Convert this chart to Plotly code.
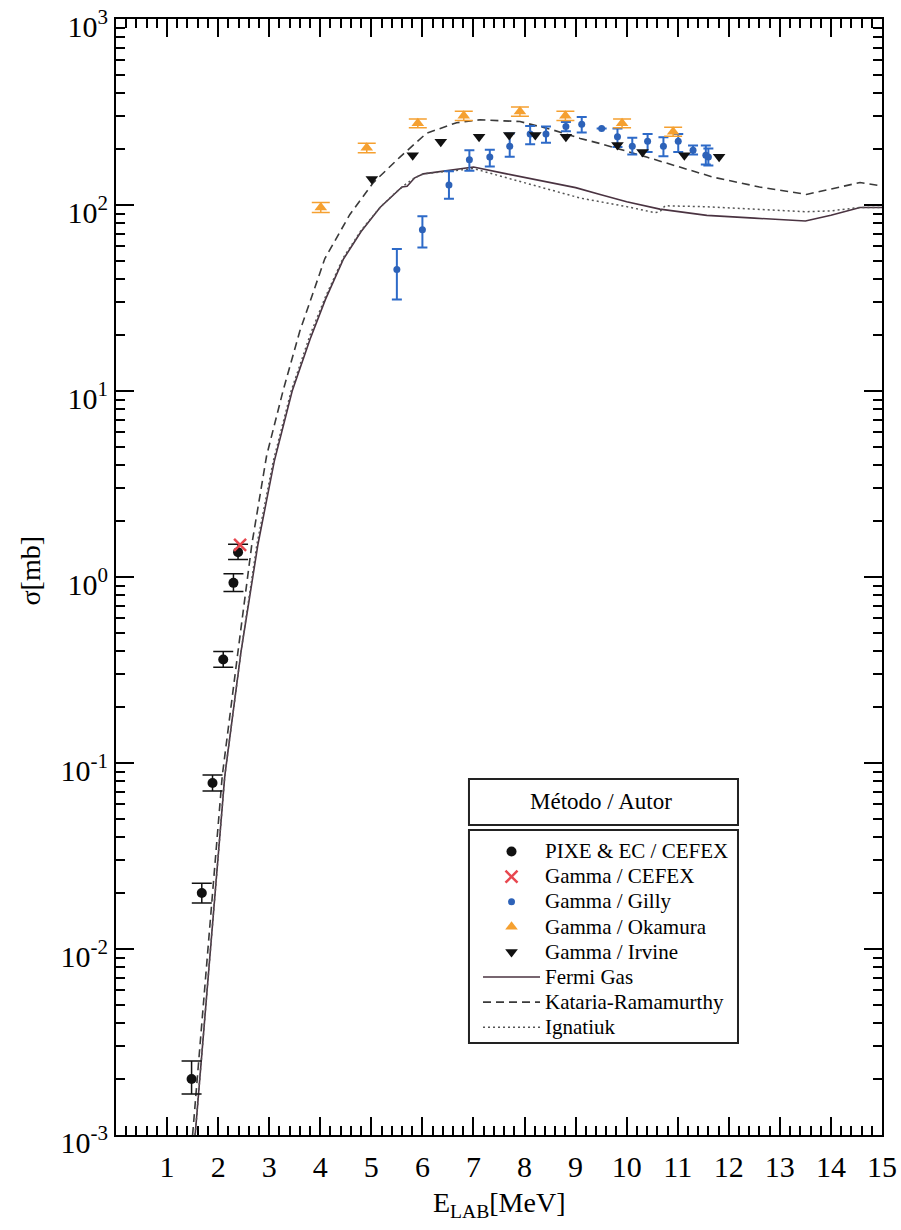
import plotly.graph_objects as go

# ---------------- data ----------------
pixe_x = [1.48, 1.68, 1.89, 2.10, 2.30, 2.39]
pixe_y = [0.0020, 0.020, 0.078, 0.36, 0.93, 1.36]
pixe_ep = [0.0005, 0.0026, 0.0082, 0.037, 0.11, 0.14]
pixe_em = [0.00034, 0.0023, 0.0074, 0.033, 0.095, 0.12]

gcef_x = [2.43]
gcef_y = [1.49]

gilly_x = [5.50, 6.00, 6.52, 6.92, 7.32, 7.71, 8.11, 8.42, 8.81, 9.12, 9.51, 9.82,
           10.11, 10.41, 10.72, 11.01, 11.30, 11.55, 11.60]
gilly_y = [45, 73.5, 128, 175, 181, 207, 241, 241, 264, 272, 258, 233,
           207, 220, 207, 220, 197, 185, 181]
gilly_ep = [13, 13.5, 24, 22, 17, 35, 25, 23, 15, 25, 0, 25,
            23, 21, 24, 21, 12, 24, 20]
gilly_em = [14, 14.5, 20, 22, 20, 25, 29, 25, 15, 27, 0, 28,
            20, 27, 24, 27, 10, 20, 18]

oka_x = [4.01, 4.91, 5.91, 6.81, 7.91, 8.80, 9.91, 10.91]
oka_y = [97, 203, 275, 302, 318, 302, 275, 248]
oka_err = [6, 12, 15, 17, 18, 17, 15, 14]

irv_x = [5.01, 5.81, 6.36, 7.11, 7.70, 8.21, 8.81, 9.82, 10.31, 11.13, 11.81]
irv_y = [138, 185, 219, 233, 238, 238, 233, 210, 193, 185, 182]

fermi_x = [1.55, 1.85, 2.13, 2.45, 2.78, 3.1, 3.45, 3.8, 4.1, 4.45, 4.8, 5.17, 5.45,
           5.6, 5.7, 5.85, 6.02, 6.5, 7.0, 7.65, 8.3, 9.0, 9.48, 10.0, 10.65, 11.57,
           12.5, 13.5, 14.0, 14.57, 15.0]
fermi_y = [0.001, 0.0095, 0.085, 0.40, 1.5, 4.2, 10, 19, 31, 51, 72, 97, 115,
           125, 126, 140, 147, 153, 160, 147, 136, 124, 114, 104, 95, 88,
           85, 82, 88, 97, 97]

kat_x = [1.50, 1.80, 2.08, 2.40, 2.66, 2.95, 3.27, 3.6, 4.09, 4.58, 5.04, 5.56, 6.08,
         6.67, 7.13, 7.91, 8.56, 9.09, 9.48, 10.39, 11.70, 12.6, 13.52, 14.57, 14.96]
kat_y = [0.001, 0.0095, 0.085, 0.42, 1.5, 4.5, 10, 21, 51.5, 89, 132, 181, 243,
         277, 287, 281, 253, 228, 214, 181, 141, 125, 114, 132, 127]

ign_x = [1.55, 1.85, 2.13, 2.45, 2.76, 3.08, 3.43, 3.8, 4.1, 4.45, 4.8, 5.17, 5.45,
         5.65, 5.85, 6.02, 6.5, 7.0, 7.65, 8.3, 9.09, 10.0, 10.55, 10.65, 10.75,
         11.5, 12.5, 13.5, 14.0, 14.57, 15.0]
ign_y = [0.001, 0.0095, 0.085, 0.40, 1.5, 4.2, 10, 20, 32, 52, 73, 97, 115,
         128, 140, 147, 152, 157, 140, 125, 109, 98, 91, 92, 99,
         98, 95, 92, 93, 97, 97]

x_ticks = list(range(1, 16))
y_ticks = [1e-3, 1e-2, 1e-1, 1e0, 1e1, 1e2, 1e3]
y_ticktext = ["10<sup>-3</sup>", "10<sup>-2</sup>", "10<sup>-1</sup>", "10<sup>0</sup>",
              "10<sup>1</sup>", "10<sup>2</sup>", "10<sup>3</sup>"]

FONT = "Liberation Serif"


def lname(s):
    return '<span style="font-size:21px">' + s + '</span>'


fig = go.Figure()

# theory curves
fig.add_trace(go.Scatter(x=fermi_x, y=fermi_y, mode="lines", name=lname("Fermi Gas"),
                         legendrank=6, line=dict(color="#4a3341", width=1.6)))
fig.add_trace(go.Scatter(x=kat_x, y=kat_y, mode="lines", name=lname("Kataria-Ramamurthy"),
                         legendrank=7,
                         line=dict(color="#3a3a3a", width=1.6, dash="8px,5px")))
fig.add_trace(go.Scatter(x=ign_x, y=ign_y, mode="lines", name=lname("Ignatiuk"),
                         legendrank=8,
                         line=dict(color="#555555", width=1.5, dash="2px,3px")))

# data
fig.add_trace(go.Scatter(x=pixe_x, y=pixe_y, mode="markers", name=lname("PIXE &amp; EC / CEFEX"),
                         legendrank=1,
                         marker=dict(symbol="circle", size=10, color="#111111"),
                         error_y=dict(type="data", symmetric=False, array=pixe_ep,
                                      arrayminus=pixe_em, color="#111111",
                                      thickness=1.5, width=10)))
fig.add_trace(go.Scatter(x=gcef_x, y=gcef_y, mode="markers", name=lname("Gamma / CEFEX"),
                         legendrank=2,
                         marker=dict(symbol="x-thin", size=12, color="#e8474f",
                                     line=dict(color="#e8474f", width=2.5))))
fig.add_trace(go.Scatter(x=gilly_x, y=gilly_y, mode="markers", name=lname("Gamma / Gilly"),
                         legendrank=3,
                         marker=dict(symbol="circle", size=7, color="#2d62b8"),
                         error_y=dict(type="data", symmetric=False, array=gilly_ep,
                                      arrayminus=gilly_em, color="#2d6ac8",
                                      thickness=2, width=5)))
fig.add_trace(go.Scatter(x=oka_x, y=oka_y, mode="markers", name=lname("Gamma / Okamura"),
                         legendrank=4,
                         marker=dict(symbol="triangle-up", size=11, color="#f5a030"),
                         error_y=dict(type="data", array=oka_err, color="#f5a030",
                                      thickness=1.5, width=9)))
fig.add_trace(go.Scatter(x=irv_x, y=irv_y, mode="markers", name=lname("Gamma / Irvine"),
                         legendrank=5,
                         marker=dict(symbol="triangle-down", size=11, color="#111111")))

fig.update_layout(
    width=901, height=1230,
    margin=dict(l=116, r=19, t=19, b=95, autoexpand=False),
    paper_bgcolor="white", plot_bgcolor="white",
    font=dict(family=FONT, color="black"),
    showlegend=True,
    legend=dict(x=0.4726, y=0.2697, xanchor="left", yanchor="top",
                bgcolor="rgba(0,0,0,0)", borderwidth=0,
                font=dict(family=FONT, size=17, color="black"),
                traceorder="normal", itemwidth=57),
    xaxis=dict(range=[0, 15], tickmode="array", tickvals=x_ticks, automargin=False,
               ticks="inside", ticklen=18, tickwidth=1.5, tickcolor="black",
               showline=True, linecolor="black", linewidth=2, mirror="ticks",
               showgrid=False, zeroline=False,
               tickfont=dict(family=FONT, size=30, color="black"),
               ticklabelstandoff=4,
               minor=dict(tick0=0, dtick=0.2, ticks="inside", ticklen=9,
                          tickwidth=1.5, tickcolor="black", showgrid=False)),
    yaxis=dict(type="log", range=[-3, 3], tickmode="array", tickvals=y_ticks,
               ticktext=y_ticktext, automargin=False,
               ticks="inside", ticklen=18, tickwidth=1.5, tickcolor="black",
               showline=True, linecolor="black", linewidth=2, mirror="ticks",
               showgrid=False, zeroline=False,
               ticklabeloverflow="allow", ticklabelshift=7,
               tickfont=dict(family=FONT, size=30, color="black"),
               minor=dict(dtick="D1", ticks="inside", ticklen=9,
                          tickwidth=1.5, tickcolor="black", showgrid=False)),
)

# legend frames and title
fig.add_shape(type="rect", xref="paper", yref="paper", x0=0.4608, x1=0.812,
              y0=0.2778, y1=0.319, line=dict(color="#222222", width=2))
fig.add_shape(type="rect", xref="paper", yref="paper", x0=0.4608, x1=0.812,
              y0=0.0824, y1=0.2733, line=dict(color="#222222", width=2))
fig.add_annotation(text="Método / Autor", xref="paper", yref="paper", x=0.6335, y=0.2984,
                   xanchor="center", yanchor="middle", showarrow=False,
                   font=dict(family=FONT, size=23, color="black"))

# axis titles
fig.add_annotation(text="σ[mb]", xref="paper", yref="paper", x=-0.112, y=0.506,
                   xanchor="center", yanchor="middle", textangle=-90, showarrow=False,
                   font=dict(family=FONT, size=28, color="black"))
fig.add_annotation(text="E<sub>LAB</sub>[MeV]", xref="paper", yref="paper", x=0.501,
                   y=-0.0627, xanchor="center", yanchor="middle", showarrow=False,
                   font=dict(family=FONT, size=28, color="black"))

fig.write_html("out.html")
